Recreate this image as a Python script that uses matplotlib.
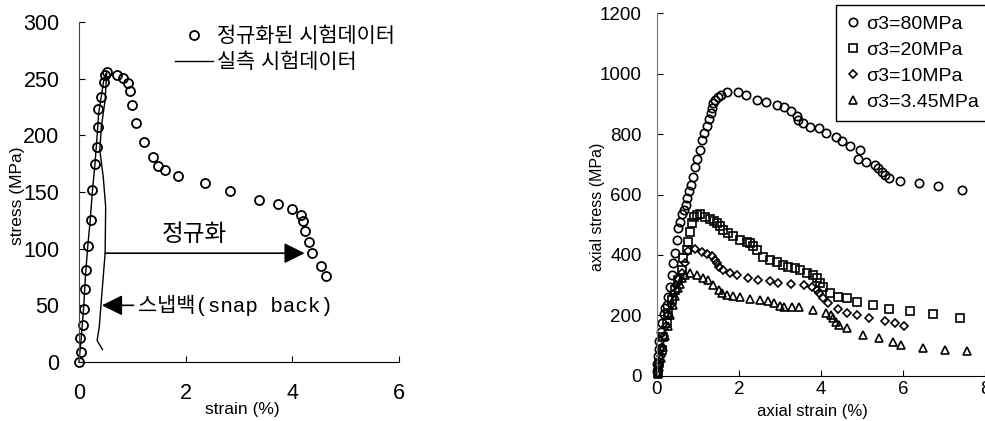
import matplotlib
matplotlib.use('Agg')
import matplotlib.pyplot as plt
from matplotlib.lines import Line2D

plt.rcParams['font.family'] = ['Liberation Sans', 'Noto Sans CJK KR']

# 왼쪽: 정규화된 시험데이터 / 실측 시험데이터 (stress-strain)
norm_strain = [0.00, 0.04, 0.02, 0.07, 0.09, 0.11, 0.14, 0.16, 0.22, 0.25, 0.30, 0.33, 0.35, 0.36,
               0.42, 0.46, 0.49, 0.52, 0.72, 0.82, 0.92, 0.96, 0.99, 1.06, 1.22, 1.39, 1.49, 1.62,
               1.86, 2.36, 2.84, 3.38, 3.73, 4.00, 4.17, 4.20, 4.23, 4.31, 4.37, 4.53, 4.63]
norm_stress = [0, 9, 21, 33, 47, 64, 81, 102, 125, 152, 175, 190, 207, 223,
               234, 247, 253, 256, 253, 251, 246, 239, 227, 211, 194, 181, 173, 169,
               164, 158, 151, 143, 139, 135, 130, 124, 116, 106, 96, 85, 76]

meas_strain = [0.00, 0.03, 0.06, 0.09, 0.12, 0.16, 0.21, 0.25, 0.30, 0.34, 0.37, 0.42, 0.47, 0.52,
               0.49, 0.42, 0.39, 0.455, 0.50, 0.49, 0.42, 0.38, 0.34, 0.44]
meas_stress = [0, 15, 32, 50, 75, 100, 125, 150, 175, 200, 220, 235, 250, 256,
               231, 208, 187, 163, 137, 96, 55, 31, 19, 11]

# 오른쪽: 구속압별 축응력-축변형률
s80_x = [0.00, 0.01, 0.02, 0.04, 0.06, 0.09, 0.12, 0.16, 0.20, 0.24, 0.28, 0.32, 0.36, 0.40, 0.44,
         0.48, 0.52, 0.57, 0.62, 0.67, 0.71, 0.74, 0.79, 0.84, 0.87, 0.93, 0.98, 1.05, 1.10, 1.15,
         1.21, 1.26, 1.32, 1.34, 1.37, 1.42, 1.48, 1.56, 1.71, 1.98, 2.17, 2.45, 2.65, 2.93, 3.10,
         3.26, 3.41, 3.45, 3.55, 3.73, 3.96, 4.12, 4.37, 4.50, 4.71, 4.91, 4.95, 5.10, 5.32, 5.40,
         5.48, 5.56, 5.67, 5.93, 6.40, 6.85, 7.43]
s80_y = [15, 40, 65, 90, 115, 145, 175, 205, 225, 234, 262, 295, 334, 373, 406,
         450, 489, 510, 535, 550, 566, 590, 610, 632, 658, 691, 718, 748, 781, 805,
         828, 850, 870, 886, 903, 914, 923, 930, 941, 939, 931, 914, 907, 897, 890,
         878, 859, 848, 837, 825, 819, 805, 789, 777, 761, 719, 746, 709, 698, 687,
         673, 665, 654, 646, 638, 629, 616]

s20_x = [0.03, 0.06, 0.11, 0.15, 0.24, 0.28, 0.36, 0.44, 0.52, 0.60, 0.64, 0.72, 0.76, 0.80, 0.85,
         0.90, 0.97, 1.05, 1.17, 1.30, 1.40, 1.46, 1.54, 1.62, 1.74, 1.86, 2.02, 2.19, 2.27, 2.35,
         2.43, 2.59, 2.76, 2.92, 3.08, 3.20, 3.37, 3.49, 3.65, 3.81, 3.90, 3.98, 4.06, 4.22, 4.42,
         4.63, 4.89, 5.26, 5.66, 6.17, 6.72, 7.39]
s20_y = [8, 41, 85, 129, 174, 207, 251, 284, 317, 350, 389, 417, 444, 477, 505,
         525, 533, 535, 527, 518, 512, 507, 495, 483, 472, 461, 450, 444, 439, 428,
         417, 394, 384, 378, 367, 361, 356, 350, 341, 334, 323, 306, 293, 273, 262,
         257, 245, 234, 221, 214, 203, 190]

s10_x = [0.02, 0.05, 0.09, 0.13, 0.18, 0.23, 0.28, 0.34, 0.40, 0.46, 0.52, 0.60, 0.68, 0.76, 0.93,
         1.09, 1.21, 1.33, 1.41, 1.46, 1.50, 1.62, 1.78, 1.94, 2.23, 2.47, 2.76, 2.96, 3.26, 3.59,
         3.77, 3.90, 3.96, 4.04, 4.18, 4.42, 4.63, 4.87, 5.18, 5.56, 5.80, 6.02]
s10_y = [10, 35, 65, 95, 130, 165, 200, 235, 270, 300, 320, 339, 373, 413, 420,
         411, 402, 395, 384, 372, 361, 350, 339, 334, 323, 317, 314, 306, 304, 301,
         293, 284, 273, 257, 240, 220, 209, 201, 192, 181, 176, 165]

s345_x = [0.02, 0.06, 0.10, 0.15, 0.20, 0.26, 0.32, 0.38, 0.44, 0.50, 0.55, 0.60, 0.68, 0.80, 0.97,
          1.13, 1.25, 1.37, 1.50, 1.58, 1.70, 1.86, 2.02, 2.27, 2.51, 2.71, 2.85, 3.00, 3.10, 3.29,
          3.47, 3.80, 4.12, 4.24, 4.30, 4.37, 4.45, 4.64, 5.03, 5.42, 5.75, 5.94, 6.48, 7.02, 7.55]
s345_y = [5, 30, 60, 95, 130, 165, 200, 235, 265, 290, 305, 323, 333, 339, 334,
          325, 317, 301, 284, 273, 267, 265, 262, 253, 251, 247, 242, 231, 227, 227,
          227, 218, 209, 201, 190, 179, 168, 157, 135, 124, 113, 102, 93, 85, 82]

W, H = 985, 421
fig = plt.figure(figsize=(W / 100, H / 100), dpi=100)
ax1 = fig.add_axes([79 / W, 59 / H, 320 / W, 340 / H])
ax2 = fig.add_axes([657 / W, 45.3 / H, 328 / W, 362.4 / H])

# ---- 왼쪽 그래프 ----
ax1.plot(meas_strain, meas_stress, color='black', lw=1.0, clip_on=False)
ax1.plot(norm_strain, norm_stress, 'o', ms=6.5, mfc='none', mec='black', mew=1.3, clip_on=False)

ax1.set_xlim(0, 6)
ax1.set_ylim(0, 300)
ax1.set_xticks([0, 2, 4, 6])
ax1.set_yticks([0, 50, 100, 150, 200, 250, 300])
ax1.tick_params(direction='in', length=4, width=0.8, labelsize=15.5)
ax1.tick_params(axis='x', pad=15)
ax1.tick_params(axis='y', pad=14)
for s in ['top', 'right']:
    ax1.spines[s].set_visible(False)
ax1.spines['left'].set_color('#444444')
ax1.spines['left'].set_linewidth(0.8)
ax1.spines['bottom'].set_linewidth(0.8)

ax1.set_xlabel('strain (%)', fontsize=12.5)
ax1.set_ylabel('stress (MPa)', fontsize=12.5)
ax1.xaxis.set_label_coords(0.51, -0.118)
ax1.yaxis.set_label_coords(-0.17, 0.488)

h_circ = Line2D([], [], ls='none', marker='o', ms=6.5, mfc='none', mec='black', mew=1.3)
h_line = Line2D([], [], color='black', lw=1.0)
ax1.legend([h_circ, h_line], ['정규화된 시험데이터', '실측 시험데이터'],
           loc='upper left', bbox_to_anchor=(0.30, 0.985), borderaxespad=0, borderpad=0,
           frameon=False, fontsize=15, handlelength=1.8, handletextpad=0.2,
           labelspacing=0.3, numpoints=1)

arrow = dict(arrowstyle='-|>,head_length=0.9,head_width=0.45', color='black', lw=1.2,
             mutation_scale=14, shrinkA=0, shrinkB=0)
ax1.annotate('', xy=(4.23, 96), xytext=(0.49, 96), arrowprops=arrow)
ax1.text(2.17, 112, '정규화', fontsize=17, ha='center', va='center')
ax1.annotate('스냅백(snap back)', xy=(0.43, 50), xytext=(1.10, 50), ha='left', va='center',
             fontsize=15, family=['Liberation Mono', 'Noto Sans CJK KR'],
             arrowprops=dict(arrow, shrinkA=1))

# ---- 오른쪽 그래프 ----
mk = dict(ls='none', mfc='none', mec='black', mew=1.2, clip_on=False)
ax2.plot(s80_x, s80_y, marker='o', ms=6.0, label='σ3=80MPa', **mk)
ax2.plot(s20_x, s20_y, marker='s', ms=5.6, label='σ3=20MPa', **mk)
ax2.plot(s10_x, s10_y, marker='D', ms=4.2, label='σ3=10MPa', **mk)
ax2.plot(s345_x, s345_y, marker='^', ms=5.8, label='σ3=3.45MPa', **mk)

ax2.set_xlim(0, 8)
ax2.set_ylim(0, 1200)
ax2.set_xticks([0, 2, 4, 6, 8])
ax2.set_yticks([0, 200, 400, 600, 800, 1000, 1200])
ax2.tick_params(direction='in', length=4, width=0.8, labelsize=13.5)
ax2.tick_params(axis='x', pad=4)
ax2.tick_params(axis='y', pad=11)
for s in ['top', 'right']:
    ax2.spines[s].set_visible(False)
ax2.spines['left'].set_color('#777777')
ax2.spines['left'].set_linewidth(0.8)
ax2.spines['bottom'].set_linewidth(0.8)

ax2.set_xlabel('axial strain (%)', fontsize=12)
ax2.set_ylabel('axial stress (MPa)', fontsize=11.5)
ax2.xaxis.set_label_coords(0.474, -0.078)
ax2.yaxis.set_label_coords(-0.16, 0.466)

leg = ax2.legend(loc='upper right', bbox_to_anchor=(1.015, 1.023), borderaxespad=0,
                 fancybox=False, edgecolor='black', framealpha=1, fontsize=14,
                 handlelength=0.6, handletextpad=0.4, borderpad=0.55, labelspacing=0.42)
leg.get_frame().set_linewidth(1.0)

fig.savefig('out.png', dpi=100)
